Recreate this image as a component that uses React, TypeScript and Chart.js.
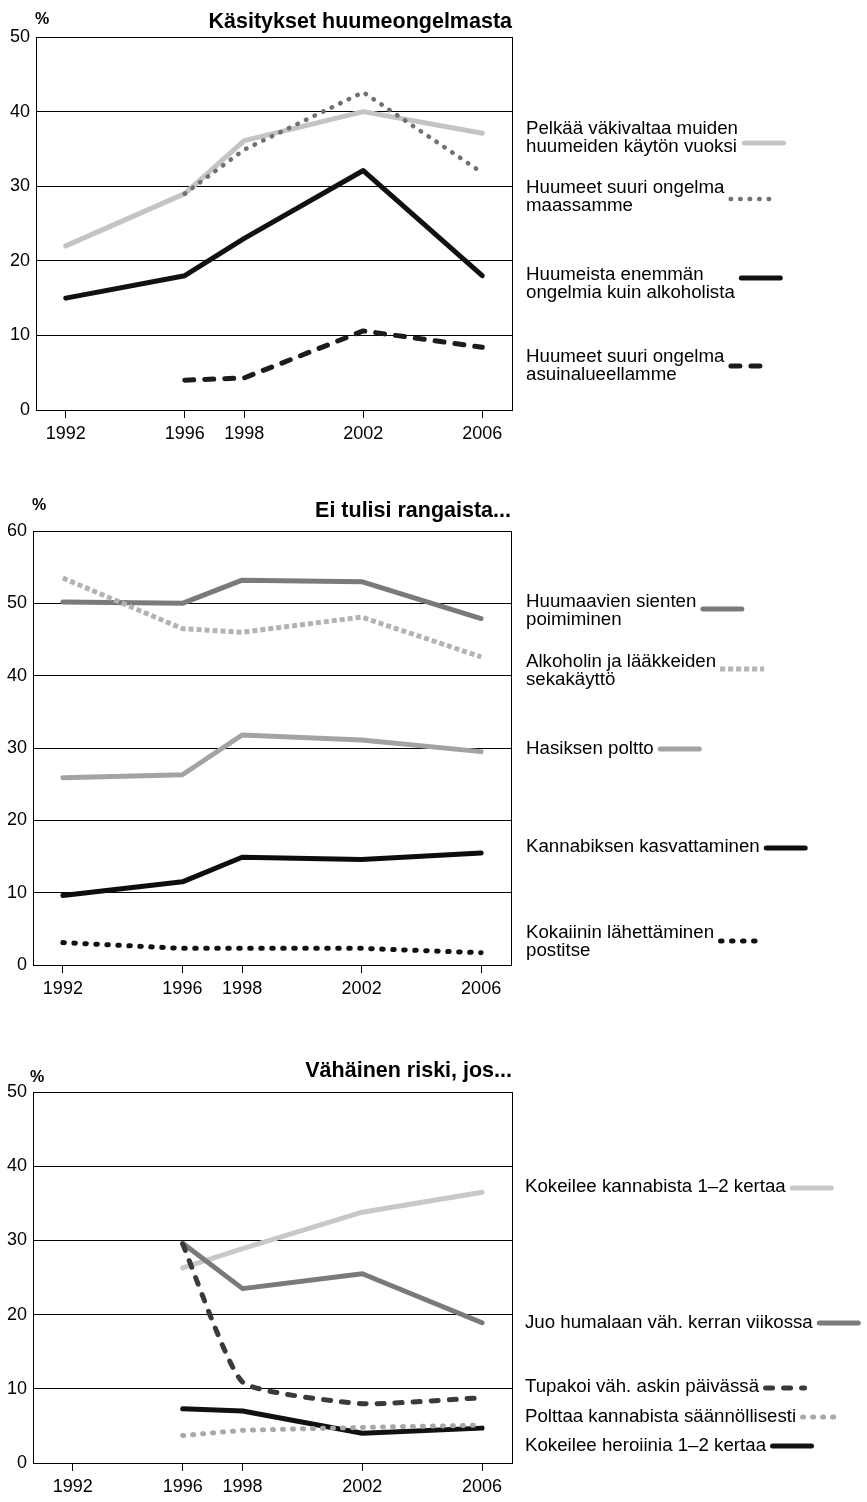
import React, { useEffect, useRef } from 'react';
import { Chart, registerables } from 'chart.js';

Chart.register(...registerables);

const FONT = "'Liberation Sans', Arial, Helvetica, sans-serif";
const PAGE_W = 867;

// ---------- Data: panel 1 ----------
const title1 = 'Käsitykset huumeongelmasta';
const years1 = [1992, 1996, 1998, 2002, 2006];
const fearViolence = [22, 29, 36.1, 40, 37.1];
const bigProblemCountry: (number | null)[] = [null, 29, 34.9, 42.6, 31.8];
const moreProblemsThanAlcohol = [15, 18, 23, 32.1, 18];
const bigProblemNeighbourhood: (number | null)[] = [null, 4, 4.3, 10.6, 8.4];
const labels1 = [
  'Pelkää väkivaltaa muiden\nhuumeiden käytön vuoksi',
  'Huumeet suuri ongelma\nmaassamme',
  'Huumeista enemmän\nongelmia kuin alkoholista',
  'Huumeet suuri ongelma\nasuinalueellamme',
];

// ---------- Data: panel 2 ----------
const title2 = 'Ei tulisi rangaista...';
const years2 = [1992, 1996, 1998, 2002, 2006];
const mushrooms = [50.2, 50, 53.2, 53, 47.9];
const alcoholMeds = [53.5, 46.5, 46, 48.1, 42.6];
const hashish = [25.9, 26.3, 31.8, 31.1, 29.5];
const cannabisGrowing = [9.6, 11.5, 14.9, 14.6, 15.5];
const cocaineMail = [3.1, 2.3, 2.3, 2.3, 1.7];
const labels2 = [
  'Huumaavien sienten\npoimiminen',
  'Alkoholin ja lääkkeiden\nsekakäyttö',
  'Hasiksen poltto',
  'Kannabiksen kasvattaminen',
  'Kokaiinin lähettäminen\npostitse',
];

// ---------- Data: panel 3 ----------
const title3 = 'Vähäinen riski, jos...';
const years3 = [1996, 1998, 2002, 2006];
const tryCannabis = [26.3, 28.9, 33.8, 36.5];
const drunkWeekly = [29.6, 23.5, 25.5, 18.9];
const smokePack = [29.5, 10.9, 8.0, 8.8];
const cannabisRegular = [3.7, 4.4, 4.8, 5.1];
const tryHeroin = [7.3, 7.0, 4.0, 4.7];
const labels3 = [
  'Kokeilee kannabista 1–2 kertaa',
  'Juo humalaan väh. kerran viikossa',
  'Tupakoi väh. askin päivässä',
  'Polttaa kannabista säännöllisesti',
  'Kokeilee heroiinia 1–2 kertaa',
];

// ---------- Axis ticks ----------
const xTickLabels = ['1992', '1996', '1998', '2002', '2006'];
const xTickValues = [1992, 1996, 1998, 2002, 2006];
const xTickValues3 = [1992.33, 1996, 1998, 2002, 2006];
const yMax1 = 50;
const yMax2 = 60;
const yMax3 = 50;
const yStep = 10;

// ---------- Styling / layout ----------
type Series = {
  label: string;
  years: number[];
  values: (number | null)[];
  color: string;
  width: number;
  dash: number[];
  cap: CanvasLineCap;
  tension?: number;
  order: number;
};

type Panel = {
  top: number;
  height: number;
  area: { left: number; top: number; right: number; bottom: number };
  xAxisH: number;
  yMax: number;
  xTicks: number[];
  title: string;
  titleBaseline: number;
  pct: { x: number; y: number };
  legendX: number;
  legendPos: { y: number; sy: number }[];
  series: Series[];
};

const panels: Panel[] = [
  {
    top: 0,
    height: 480,
    area: { left: 36, top: 37, right: 512, bottom: 410 },
    xAxisH: 40,
    yMax: yMax1,
    xTicks: xTickValues,
    title: title1,
    titleBaseline: 28,
    pct: { x: 35, y: 24 },
    legendX: 526,
    legendPos: [
      { y: 134, sy: 143 },
      { y: 193, sy: 199 },
      { y: 280, sy: 278 },
      { y: 362, sy: 366 },
    ],
    series: [
      { label: labels1[0], years: years1, values: fearViolence, color: '#c4c4c4', width: 5, dash: [], cap: 'round', order: 3 },
      { label: labels1[1], years: years1, values: bigProblemCountry, color: '#707070', width: 4.5, dash: [0.5, 9], cap: 'round', order: 0 },
      { label: labels1[2], years: years1, values: moreProblemsThanAlcohol, color: '#111111', width: 5, dash: [], cap: 'round', order: 1 },
      { label: labels1[3], years: years1, values: bigProblemNeighbourhood, color: '#1c1c1c', width: 5, dash: [9, 11], cap: 'round', order: 2 },
    ],
  },
  {
    top: 480,
    height: 560,
    area: { left: 33, top: 51, right: 511, bottom: 485 },
    xAxisH: 40,
    yMax: yMax2,
    xTicks: xTickValues,
    title: title2,
    titleBaseline: 37,
    pct: { x: 32, y: 30 },
    legendX: 526,
    legendPos: [
      { y: 127, sy: 129 },
      { y: 187, sy: 189 },
      { y: 274, sy: 269 },
      { y: 372, sy: 368 },
      { y: 458, sy: 461 },
    ],
    series: [
      { label: labels2[0], years: years2, values: mushrooms, color: '#7a7a7a', width: 5, dash: [], cap: 'round', order: 1 },
      { label: labels2[1], years: years2, values: alcoholMeds, color: '#b3b3b3', width: 5, dash: [5, 3], cap: 'butt', order: 0 },
      { label: labels2[2], years: years2, values: hashish, color: '#a3a3a3', width: 5, dash: [], cap: 'round', order: 2 },
      { label: labels2[3], years: years2, values: cannabisGrowing, color: '#0d0d0d', width: 5, dash: [], cap: 'round', order: 3 },
      { label: labels2[4], years: years2, values: cocaineMail, color: '#111111', width: 5, dash: [1.5, 9.5], cap: 'round', order: 4 },
    ],
  },
  {
    top: 1040,
    height: 462,
    area: { left: 33, top: 52, right: 512, bottom: 423 },
    xAxisH: 36,
    yMax: yMax3,
    xTicks: xTickValues3,
    title: title3,
    titleBaseline: 37,
    pct: { x: 30, y: 42 },
    legendX: 525,
    legendPos: [
      { y: 152, sy: 148 },
      { y: 288, sy: 283 },
      { y: 352, sy: 348 },
      { y: 382, sy: 377 },
      { y: 411, sy: 406 },
    ],
    series: [
      { label: labels3[0], years: years3, values: tryCannabis, color: '#c8c8c8', width: 5, dash: [], cap: 'round', order: 4 },
      { label: labels3[1], years: years3, values: drunkWeekly, color: '#7a7a7a', width: 5, dash: [], cap: 'round', order: 3 },
      { label: labels3[2], years: years3, values: smokePack, color: '#3a3a3a', width: 5, dash: [7, 11], cap: 'round', tension: 0.15, order: 0 },
      { label: labels3[3], years: years3, values: cannabisRegular, color: '#a8a8a8', width: 5, dash: [1, 9], cap: 'round', order: 1 },
      { label: labels3[4], years: years3, values: tryHeroin, color: '#111111', width: 5, dash: [], cap: 'round', order: 2 },
    ],
  },
];

const LEGEND_FONT = `18.7px ${FONT}`;
const LEGEND_LINE_H = 18;
const SWATCH_GAP = 4;
const SWATCH_LEN = 44;

function makeDecorPlugin(panel: Panel) {
  return {
    id: 'decor',
    beforeDatasetsDraw(chart: any) {
      const { ctx, chartArea } = chart;
      ctx.save();
      ctx.strokeStyle = '#000';
      ctx.lineWidth = 1;
      ctx.setLineDash([]);
      const l = Math.round(chartArea.left) + 0.5;
      const t = Math.round(chartArea.top) + 0.5;
      const r = Math.round(chartArea.right) + 0.5;
      const b = Math.round(chartArea.bottom) + 0.5;
      ctx.strokeRect(l, t, r - l, b - t);
      ctx.restore();
    },
    afterDraw(chart: any) {
      const { ctx, chartArea } = chart;
      ctx.save();
      ctx.fillStyle = '#000';
      ctx.textBaseline = 'alphabetic';
      // title
      ctx.font = `bold 21.5px ${FONT}`;
      ctx.textAlign = 'right';
      ctx.fillText(panel.title, chartArea.right, panel.titleBaseline);
      // percent sign
      ctx.font = `bold 16px ${FONT}`;
      ctx.textAlign = 'left';
      ctx.fillText('%', panel.pct.x, panel.pct.y);
      // legend
      ctx.font = LEGEND_FONT;
      panel.series.forEach((s, i) => {
        const pos = panel.legendPos[i];
        const lines = s.label.split('\n');
        let w = 0;
        lines.forEach((ln, k) => {
          ctx.fillStyle = '#000';
          ctx.fillText(ln, panel.legendX, pos.y + k * LEGEND_LINE_H);
          w = Math.max(w, ctx.measureText(ln).width);
        });
        const x0 = panel.legendX + w + SWATCH_GAP + (s.cap === 'round' ? s.width / 2 : 0);
        const x1 = panel.legendX + w + SWATCH_GAP + SWATCH_LEN - (s.cap === 'round' ? s.width / 2 : 0);
        ctx.save();
        ctx.strokeStyle = s.color;
        ctx.lineWidth = s.width;
        ctx.lineCap = s.cap;
        ctx.setLineDash(s.dash);
        ctx.beginPath();
        ctx.moveTo(x0, pos.sy);
        ctx.lineTo(x1, pos.sy);
        ctx.stroke();
        ctx.restore();
      });
      ctx.restore();
    },
  };
}

function PanelChart({ panel }: { panel: Panel }) {
  const ref = useRef<HTMLCanvasElement | null>(null);
  useEffect(() => {
    if (!ref.current) return;
    const { area, height, xAxisH } = panel;
    const chart = new Chart(ref.current, {
      type: 'line',
      data: {
        datasets: panel.series.map((s) => ({
          label: s.label,
          data: s.years.map((yr, i) => ({ x: yr, y: s.values[i] })),
          borderColor: s.color,
          backgroundColor: s.color,
          borderWidth: s.width,
          borderDash: s.dash,
          borderCapStyle: s.cap,
          borderJoinStyle: 'round',
          pointRadius: 0,
          pointHoverRadius: 0,
          tension: s.tension ?? 0,
          fill: false,
          order: s.order,
        })) as any,
      },
      options: {
        animation: false,
        responsive: false,
        maintainAspectRatio: false,
        events: [],
        layout: {
          padding: {
            top: area.top,
            left: 0,
            right: PAGE_W - area.right,
            bottom: height - area.bottom - xAxisH,
          },
        },
        plugins: {
          legend: { display: false },
          tooltip: { enabled: false },
          title: { display: false },
        },
        scales: {
          x: {
            type: 'linear',
            min: 1991,
            max: 2007,
            afterFit: (s: any) => {
              s.height = xAxisH;
            },
            afterBuildTicks: (s: any) => {
              s.ticks = panel.xTicks.map((v) => ({ value: v }));
            },
            ticks: {
              autoSkip: false,
              maxRotation: 0,
              padding: 5,
              color: '#000',
              font: { size: 18, family: FONT },
              callback: (_v: any, i: number) => xTickLabels[i],
            },
            grid: {
              drawOnChartArea: false,
              drawTicks: true,
              tickLength: 8,
              color: '#000',
              lineWidth: 1,
            },
            border: { display: true, color: '#000', width: 1 },
          },
          y: {
            min: 0,
            max: panel.yMax,
            afterFit: (s: any) => {
              s.width = area.left;
            },
            ticks: {
              stepSize: yStep,
              padding: 6,
              color: '#000',
              font: { size: 18, family: FONT },
            },
            grid: { color: '#000', lineWidth: 1, drawTicks: false },
            border: { display: true, color: '#000', width: 1 },
          },
        },
      } as any,
      plugins: [makeDecorPlugin(panel)],
    });
    return () => chart.destroy();
  }, [panel]);
  return (
    <canvas
      ref={ref}
      width={PAGE_W}
      height={panel.height}
      style={{ display: 'block', width: PAGE_W, height: panel.height }}
    />
  );
}

export default function App() {
  useEffect(() => {
    document.body.style.margin = '0';
    document.body.style.background = '#fff';
  }, []);
  return (
    <div style={{ width: PAGE_W, background: '#fff' }}>
      {panels.map((p, i) => (
        <PanelChart key={i} panel={p} />
      ))}
    </div>
  );
}
